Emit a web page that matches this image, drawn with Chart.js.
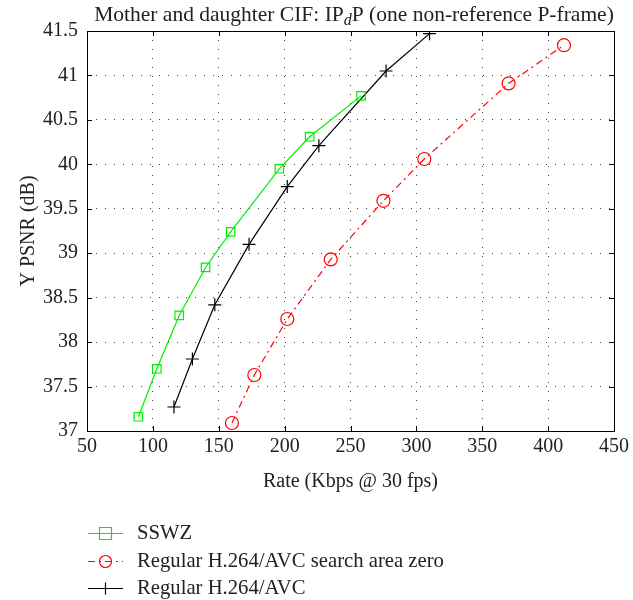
<!DOCTYPE html>
<html><head><meta charset="utf-8">
<script src="https://cdn.jsdelivr.net/npm/chart.js@4.4.0/dist/chart.umd.min.js"></script>
<style>html,body{margin:0;padding:0;background:#fff}#wrap{width:633px;height:600px;position:relative}</style>
</head><body><div id="wrap"><canvas id="c" width="633" height="600"></canvas></div>
<script>
const seriesNames = ["SSWZ", "Regular H.264/AVC search area zero", "Regular H.264/AVC"];
const sswzRate = [89, 103, 120, 140, 159, 196, 219, 258];
const sswzPsnr = [37.16, 37.70, 38.30, 38.84, 39.24, 39.95, 40.31, 40.77];
const zeroRate = [160, 177, 202, 235, 275, 306, 370, 412];
const zeroPsnr = [37.09, 37.63, 38.26, 38.93, 39.59, 40.06, 40.91, 41.34];
const avcRate = [116, 130, 147, 173, 202, 226, 277, 310];
const avcPsnr = [37.27, 37.81, 38.42, 39.10, 39.75, 40.21, 41.05, 41.47];
const xTicks = [50, 100, 150, 200, 250, 300, 350, 400, 450];
const yTicks = [37, 37.5, 38, 38.5, 39, 39.5, 40, 40.5, 41, 41.5];

const FONT = '"Liberation Serif", "DejaVu Serif", serif';
const TXT = '#222';
const pts = (xs, ys) => xs.map((x, i) => ({x: x, y: ys[i]}));

const AREA = {left: 87, top: 31, right: 617, bottom: 431};

function drawMarker(ctx, style, x, y, r, color) {
  ctx.save();
  ctx.strokeStyle = color; ctx.lineWidth = 1.2; ctx.setLineDash([]);
  ctx.beginPath();
  if (style === 'rect') { ctx.rect(x - r, y - r, 2 * r, 2 * r); }
  else if (style === 'circle') { ctx.arc(x, y, r, 0, Math.PI * 2); }
  else { ctx.moveTo(x - r, y); ctx.lineTo(x + r, y); ctx.moveTo(x, y - r); ctx.lineTo(x, y + r); }
  ctx.stroke();
  ctx.restore();
}

const decor = {
  id: 'decor',
  afterDraw(chart) {
    const ctx = chart.ctx, a = chart.chartArea;
    const xs = chart.scales.x, ys = chart.scales.y;
    ctx.save();
    ctx.strokeStyle = '#000'; ctx.lineWidth = 1; ctx.setLineDash([]);
    ctx.strokeRect(a.left + 0.5, a.top + 0.5, a.right - a.left, a.bottom - a.top);
    ctx.beginPath();
    xTicks.forEach(v => { const p = Math.round(xs.getPixelForValue(v)) + 0.5;
      ctx.moveTo(p, a.bottom); ctx.lineTo(p, a.bottom - 5);
      ctx.moveTo(p, a.top); ctx.lineTo(p, a.top + 5); });
    yTicks.forEach(v => { const p = Math.round(ys.getPixelForValue(v)) + 0.5;
      ctx.moveTo(a.left, p); ctx.lineTo(a.left + 5, p);
      ctx.moveTo(a.right, p); ctx.lineTo(a.right - 5, p); });
    ctx.stroke();
    // title
    ctx.fillStyle = TXT; ctx.textBaseline = 'alphabetic';
    const f = '21.5px ' + FONT, fi = 'italic 16px ' + FONT;
    const p1 = 'Mother and daughter CIF: IP', p2 = 'd', p3 = 'P (one non-reference P-frame)';
    ctx.font = f; const w1 = ctx.measureText(p1).width, w3 = ctx.measureText(p3).width;
    ctx.font = fi; const w2 = ctx.measureText(p2).width;
    let tx = 354 - (w1 + w2 + w3) / 2; const ty = 21;
    ctx.textAlign = 'left';
    ctx.font = f; ctx.fillText(p1, tx, ty); tx += w1;
    ctx.font = fi; ctx.fillText(p2, tx, ty + 4); tx += w2;
    ctx.font = f; ctx.fillText(p3, tx, ty);
    // axis titles
    ctx.font = '20px ' + FONT; ctx.textAlign = 'center';
    ctx.fillText('Rate (Kbps @ 30 fps)', (a.left + a.right) / 2, 487);
    ctx.save(); ctx.translate(34, (a.top + a.bottom) / 2); ctx.rotate(-Math.PI / 2);
    ctx.fillText('Y PSNR (dB)', 0, 0); ctx.restore();
    // legend
    const rows = [533, 561, 588];
    chart.data.datasets.forEach((ds, i) => {
      const y = rows[i] + 0.5;
      ctx.strokeStyle = ds.borderColor; ctx.lineWidth = 1.2; ctx.setLineDash(ds.borderDash || []);
      ctx.beginPath(); ctx.moveTo(88, y); ctx.lineTo(123, y); ctx.stroke();
      drawMarker(ctx, ds.pointStyle, 105.5, y, 6, ds.borderColor);
      ctx.fillStyle = TXT; ctx.font = '20.7px ' + FONT; ctx.textAlign = 'left'; ctx.textBaseline = 'middle';
      ctx.fillText(ds.label, 137, rows[i] + 1);
    });
    ctx.restore();
  }
};

new Chart(document.getElementById('c'), {
  type: 'line',
  data: { datasets: [
    { label: seriesNames[0], data: pts(sswzRate, sswzPsnr), borderColor: '#00ee00', backgroundColor: 'transparent',
      pointStyle: 'rect', pointRadius: 6, pointBorderWidth: 1.2, borderWidth: 1.2, tension: 0 },
    { label: seriesNames[1], data: pts(zeroRate, zeroPsnr), borderColor: '#ff0000', backgroundColor: 'transparent',
      pointStyle: 'circle', pointRadius: 6.5, pointBorderWidth: 1.2, borderWidth: 1.2, borderDash: [7, 4, 2, 4], tension: 0 },
    { label: seriesNames[2], data: pts(avcRate, avcPsnr), borderColor: '#000000', backgroundColor: 'transparent',
      pointStyle: 'cross', pointRadius: 6.5, pointBorderWidth: 1.2, borderWidth: 1.2, tension: 0 }
  ]},
  options: {
    responsive: false, animation: false, devicePixelRatio: 1,
    layout: { padding: { left: 0, top: AREA.top, right: 633 - AREA.right, bottom: 0 } },
    plugins: { legend: { display: false }, title: { display: false }, tooltip: { enabled: false } },
    scales: {
      x: { type: 'linear', min: 50, max: 450,
        afterFit(s) { s.height = 600 - AREA.bottom; },
        afterBuildTicks(s) { s.ticks = xTicks.map(v => ({value: v})); },
        ticks: { color: TXT, font: { family: FONT, size: 20 }, padding: 4, maxRotation: 0 },
        grid: { color: '#444', lineWidth: 1, drawTicks: false, tickLength: 0 },
        border: { display: false, dash: [1, 8] } },
      y: { type: 'linear', min: 37, max: 41.5,
        afterFit(s) { s.width = AREA.left; },
        afterBuildTicks(s) { s.ticks = yTicks.map(v => ({value: v})); },
        ticks: { color: TXT, font: { family: FONT, size: 20 }, padding: 9, callback: v => String(v) },
        grid: { color: '#444', lineWidth: 1, drawTicks: false, tickLength: 0 },
        border: { display: false, dash: [1, 8] } }
    }
  },
  plugins: [decor]
});
</script></body></html>
